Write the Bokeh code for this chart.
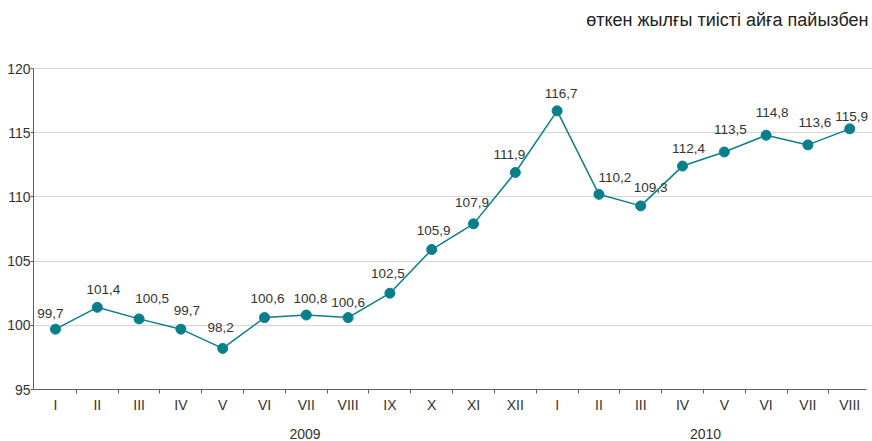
from bokeh.plotting import figure
from bokeh.models import Range1d, FixedTicker, ColumnDataSource, LinearAxis
from bokeh.core.properties import value
from bokeh.embed import file_html
from bokeh.resources import INLINE

months = ["I", "II", "III", "IV", "V", "VI", "VII", "VIII", "IX", "X", "XI", "XII",
          "I", "II", "III", "IV", "V", "VI", "VII", "VIII"]
values = [99.7, 101.4, 100.5, 99.7, 98.2, 100.6, 100.8, 100.6, 102.5, 105.9, 107.9, 111.9,
          116.7, 110.2, 109.3, 112.4, 113.5, 114.8, 114.05, 115.3]
labels = ["99,7", "101,4", "100,5", "99,7", "98,2", "100,6", "100,8", "100,6", "102,5", "105,9",
          "107,9", "111,9", "116,7", "110,2", "109,3", "112,4", "113,5", "114,8", "113,6", "115,9"]
years = ["2009", "2010"]
year_pos = [5.97, 15.55]
y_ticks = [95, 100, 105, 110, 115, 120]
title_text = "өткен жылғы тиісті айға пайызбен"

# label placement offsets in screen pixels (style)
label_dx = [-5, 6, 13, 6, -2, 3, 4, 0, -2, 2, -1.5, -6, 4, 16, 10, 6, 6, 6, 7, 2]
label_dy = [-16, -18, -20, -19, -21, -19, -17, -15, -20, -19.5, -21, -18, -17, -17, -18, -18, -22, -23, -22, -12]

FONT = "Liberation Sans"
TXT = "#333333"
AXC = "#5f5f5f"
TEAL = "#0a7f8c"

X0, X1, XEND = -0.526, 19.40, 19.545
Y0, Y1, YEND = 95, 120, 125.296

xs = list(range(len(months)))

p = figure(width=872, height=441, output_backend="svg", toolbar_location=None,
           x_range=Range1d(X0, XEND), y_range=Range1d(Y0, YEND),
           min_border_left=33, min_border_right=0, min_border_top=0, min_border_bottom=52)
p.outline_line_color = None
p.background_fill_color = "white"
p.border_fill_color = "white"

# x axis (months)
p.xaxis.ticker = FixedTicker(ticks=xs, minor_ticks=[i + 0.5 for i in xs[:-1]])
p.xaxis.bounds = (X0, X1)
p.xaxis.major_label_overrides = {i: m for i, m in enumerate(months)}
p.xaxis.major_tick_out = 0
p.xaxis.major_tick_in = 0
p.xaxis.minor_tick_out = 4
p.xaxis.minor_tick_in = 0
p.xaxis.minor_tick_line_color = AXC
p.xaxis.axis_line_color = AXC
p.xaxis.major_label_text_font = FONT
p.xaxis.major_label_text_font_size = "14px"
p.xaxis.major_label_text_color = TXT
p.xaxis.major_label_standoff = 3

# year axis
yax = LinearAxis(ticker=FixedTicker(ticks=year_pos),
                 major_label_overrides={xp: yr for xp, yr in zip(year_pos, years)})
yax.axis_line_color = None
yax.major_tick_line_color = None
yax.minor_tick_line_color = None
yax.major_tick_out = 0
yax.major_tick_in = 0
yax.major_label_text_font = FONT
yax.major_label_text_font_size = "14px"
yax.major_label_text_color = TXT
yax.major_label_standoff = 13
p.add_layout(yax, "below")

# y axis
p.yaxis.ticker = FixedTicker(ticks=y_ticks)
p.yaxis.bounds = (Y0, Y1)
p.yaxis.major_tick_out = 3
p.yaxis.major_tick_in = 0
p.yaxis.minor_tick_line_color = None
p.yaxis.axis_line_color = AXC
p.yaxis.major_tick_line_color = AXC
p.yaxis.major_label_text_font = FONT
p.yaxis.major_label_text_font_size = "14px"
p.yaxis.major_label_text_color = TXT
p.yaxis.major_label_standoff = 0

p.xgrid.grid_line_color = None
p.ygrid.ticker = FixedTicker(ticks=y_ticks[1:])
p.ygrid.bounds = (X0, X1)
p.ygrid.grid_line_color = "#d6d6d6"
p.ygrid.grid_line_width = 1

src = ColumnDataSource(dict(x=xs, y=values, lab=labels, dx=label_dx, dy=label_dy))
p.line("x", "y", source=src, line_color=TEAL, line_width=1.5)
p.scatter("x", "y", source=src, size=10, fill_color=TEAL, line_color=TEAL)
p.text("x", "y", text="lab", source=src, x_offset="dx", y_offset="dy", text_align="center",
       text_baseline="middle", text_font=value(FONT), text_font_size="13.5px", text_color=TXT)

# unit note at top right
p.text(x=[X1], y=[123.74], text=[title_text], x_offset=2, text_align="right",
       text_baseline="middle", text_font=value(FONT), text_font_size="18px", text_color="#222222")

open("out.html", "w").write(file_html(p, INLINE))
